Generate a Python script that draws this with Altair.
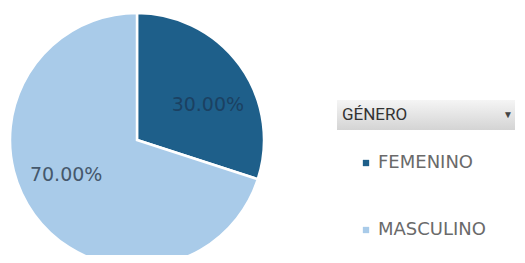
import altair as alt
import pandas as pd

categories = ["FEMENINO", "MASCULINO"]
values = [30, 70]
labels = ["30.00%", "70.00%"]
colors = ["#1e5f8a", "#a9cbe9"]
label_colors = ["#1b4162", "#45586c"]

df = pd.DataFrame({"cat": categories, "val": values, "lab": labels, "lc": label_colors})

cx, cy, R = 129, 132, 127

base = alt.Chart(df).encode(
    theta=alt.Theta("val:Q", stack=True),
    order=alt.Order("cat:N", sort="ascending"),
)

pie = base.mark_arc(outerRadius=R, stroke="white", strokeWidth=2.5).encode(
    x=alt.value(cx),
    y=alt.value(cy),
    color=alt.Color(
        "cat:N",
        scale=alt.Scale(domain=categories, range=colors),
        legend=alt.Legend(
            title=None,
            orient="none",
            legendX=349,
            legendY=146,
            symbolType="square",
            symbolSize=40,
            symbolStrokeWidth=0,
            labelFont="DejaVu Sans",
            labelFontSize=18,
            labelColor="#6a6a6a",
            rowPadding=49,
            labelOffset=3,
        ),
    ),
)

text = base.mark_text(
    radius=79, thetaOffset=0.17, font="DejaVu Sans", fontSize=19, align="center", baseline="middle"
).encode(
    x=alt.value(cx),
    y=alt.value(cy),
    text="lab:N",
    color=alt.Color("lc:N", scale=None),
)

hdr = pd.DataFrame({"t": ["GÉNERO"]})
header_box = alt.Chart(hdr).mark_rect(
    color=alt.LinearGradient(
        gradient="linear",
        stops=[alt.GradientStop(color="#f5f5f5", offset=0), alt.GradientStop(color="#d4d4d4", offset=1)],
        x1=0, x2=0, y1=0, y2=1,
    )
).encode(x=alt.value(329), x2=alt.value(507), y=alt.value(92), y2=alt.value(122))

header_text = alt.Chart(hdr).mark_text(
    font="Roboto", fontSize=17, color="#333333", align="left", baseline="middle"
).encode(x=alt.value(334), y=alt.value(107), text="t:N")

arrow = alt.Chart(hdr).mark_text(
    text="▼", fontSize=10, color="#444444", align="center", baseline="middle"
).encode(x=alt.value(500), y=alt.value(107))

chart = alt.layer(pie, text, header_box, header_text, arrow).properties(
    width=509, height=247, padding=0, background="white",
    autosize=alt.AutoSizeParams(type="none"),
).configure_view(stroke=None, strokeWidth=0)

chart.save("out.html", embed_options={"renderer": "svg", "actions": False})
